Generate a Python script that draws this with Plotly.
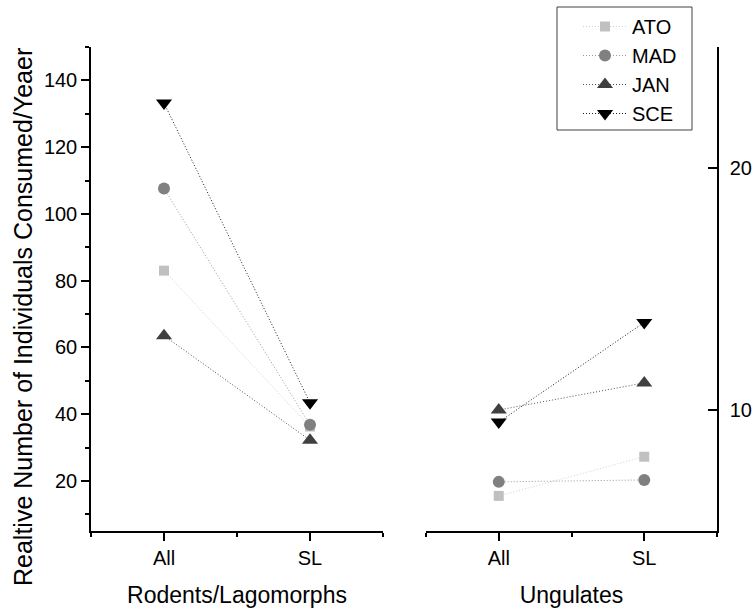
import plotly.graph_objects as go

categories = ["All", "SL"]
series_names = ["ATO", "MAD", "JAN", "SCE"]
rodents = {
    "ATO": [83.0, 36.3],
    "MAD": [107.6, 36.8],
    "JAN": [63.5, 32.2],
    "SCE": [133.2, 43.4],
}
ungulates = {
    "ATO": [6.45, 8.07],
    "MAD": [7.03, 7.11],
    "JAN": [10.0, 11.12],
    "SCE": [9.5, 13.62],
}
left_ticks = [20, 40, 60, 80, 100, 120, 140]
right_ticks = [10, 20]

marker_colors = {"ATO": "#c0c0c0", "MAD": "#808080", "JAN": "#404040", "SCE": "#000000"}
line_colors = {"ATO": "#cfcfcf", "MAD": "#9a9a9a", "JAN": "#505050", "SCE": "#202020"}
symbols = {"ATO": "square", "MAD": "circle", "JAN": "triangle-up", "SCE": "triangle-down"}
sizes = {"ATO": 10, "MAD": 12, "JAN": 14, "SCE": 14}

FONT = "Arial, Liberation Sans, sans-serif"
xpos = [0, 1]

fig = go.Figure()
for name in series_names:
    fig.add_trace(go.Scatter(
        x=xpos, y=rodents[name], name=name, mode="lines+markers",
        line=dict(color=line_colors[name], width=1, dash="1px,2px"),
        marker=dict(symbol=symbols[name], size=sizes[name], color=marker_colors[name]),
        xaxis="x", yaxis="y", legendgroup=name, showlegend=True,
    ))
for name in series_names:
    fig.add_trace(go.Scatter(
        x=xpos, y=ungulates[name], name=name, mode="lines+markers",
        line=dict(color=line_colors[name], width=1, dash="1px,2px"),
        marker=dict(symbol=symbols[name], size=sizes[name], color=marker_colors[name]),
        xaxis="x2", yaxis="y2", legendgroup=name, showlegend=False,
    ))

W, H = 754, 613
ml, mr, mt, mb = 91, 37, 47, 82
pw = W - ml - mr
ph = H - mt - mb

def px_x(v):
    return (v - ml) / pw

def px_y(v):
    return (H - mb - v) / ph

xcommon = dict(
    range=[-0.5, 1.5], tickmode="array", tickvals=xpos, ticktext=categories,
    ticks="outside", ticklen=8, tickwidth=1.5, tickcolor="black",
    showline=True, linecolor="black", linewidth=1.5, showgrid=False, zeroline=False,
    tickfont=dict(family=FONT, size=20, color="black"),
    minor=dict(tickmode="array", tickvals=[-0.5, 0.5, 1.5], ticks="outside", ticklen=4,
               tickwidth=1.5, tickcolor="black", showgrid=False),
)

fig.update_layout(
    width=W, height=H,
    margin=dict(l=ml, r=mr, t=mt, b=mb, autoexpand=False),
    paper_bgcolor="white", plot_bgcolor="white",
    font=dict(family=FONT, color="black"),
    xaxis=dict(domain=[0, 292 / pw], anchor="y",
               title=dict(text="Rodents/Lagomorphs", font=dict(family=FONT, size=23), standoff=19),
               **xcommon),
    xaxis2=dict(domain=[px_x(426), 1], anchor="y2",
                title=dict(text="Ungulates", font=dict(family=FONT, size=23), standoff=19),
                **xcommon),
    yaxis=dict(range=[5, 150], anchor="x", tickmode="array", tickvals=left_ticks,
               ticks="outside", ticklen=8, tickwidth=1.5, tickcolor="black",
               showline=True, linecolor="black", linewidth=1.5, showgrid=False, zeroline=False,
               tickfont=dict(family=FONT, size=20, color="black"),
               minor=dict(tickmode="linear", tick0=0, dtick=10, ticks="outside", ticklen=4,
                          tickwidth=1.5, tickcolor="black", showgrid=False)),
    yaxis2=dict(range=[5, 25], anchor="x2", side="right", tickmode="array", tickvals=right_ticks,
                ticks="inside", ticklen=9, tickwidth=1.5, tickcolor="black",
                showline=True, linecolor="black", linewidth=1.5, showgrid=False, zeroline=False,
                ticklabelstandoff=7,
                tickfont=dict(family=FONT, size=20, color="black")),
    legend=dict(x=px_x(578), y=px_y(7), xanchor="left", yanchor="top",
                borderwidth=0, bgcolor="rgba(0,0,0,0)", itemwidth=44,
                font=dict(family=FONT, size=20, color="black"),
                tracegroupgap=0),
    showlegend=True,
    shapes=[dict(type="rect", xref="paper", yref="paper",
                 x0=px_x(557), x1=px_x(692), y0=px_y(130), y1=px_y(7),
                 line=dict(color="#404040", width=1), fillcolor="rgba(0,0,0,0)")],
    annotations=[dict(
        text="Realtive Number of Individuals Consumed/Yeaer",
        xref="paper", yref="paper", x=px_x(23), y=px_y(317),
        xanchor="center", yanchor="middle", textangle=-90, showarrow=False,
        font=dict(family=FONT, size=25, color="black"),
    )],
)

fig.write_html("out.html")
